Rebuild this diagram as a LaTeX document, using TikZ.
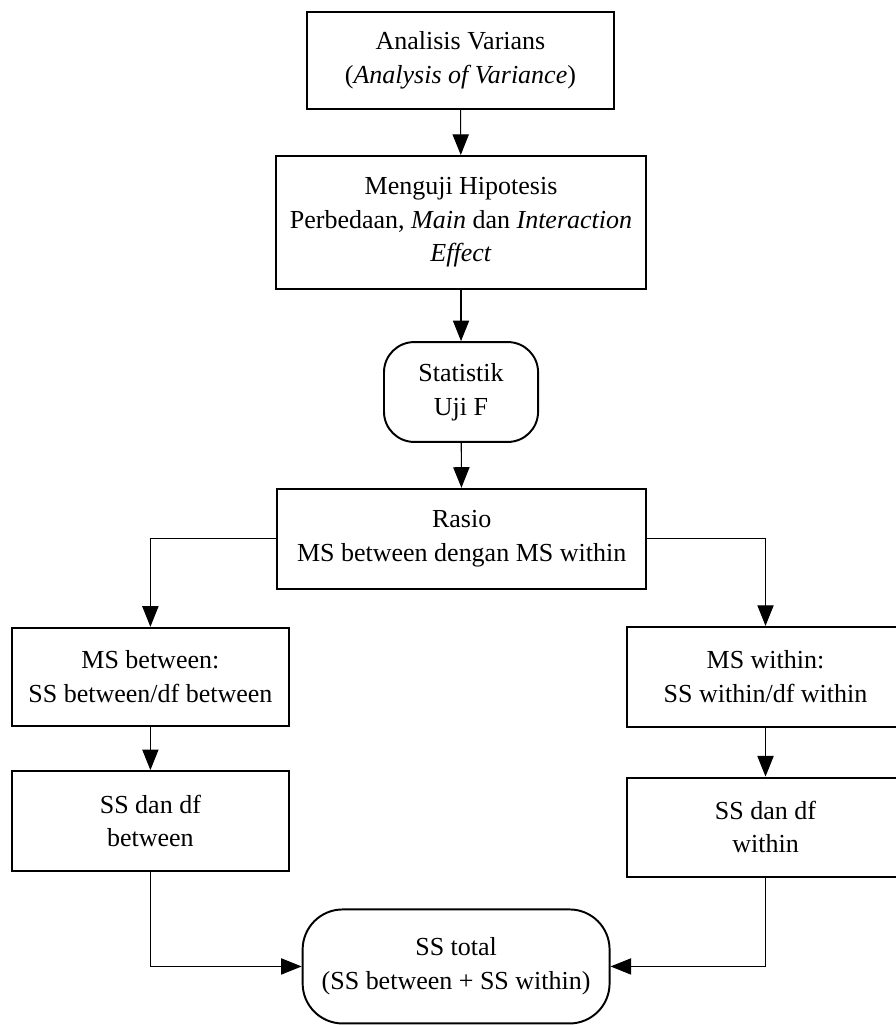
\documentclass[tikz,border=0pt]{standalone}
\usepackage{fontspec}
\setmainfont{Liberation Serif}
\usetikzlibrary{arrows.meta, positioning}

\begin{document}
\begin{tikzpicture}[
  box/.style={rectangle, draw, line width=0.9pt, align=center, inner sep=0pt, font=\fontsize{12}{15.5}\selectfont},
  rbox/.style={box, rounded corners=0.49cm},
  arr/.style={-{Triangle[length=9.5pt, width=7.5pt]}, line width=0.5pt}
]
  \useasboundingbox (0,0) rectangle (14.53,-16.63);
  \node[box, minimum width=4.98cm, minimum height=1.57cm] (Anova) at (7.47,-0.98) {Analisis Varians\\(\textit{Analysis of Variance})};
  \node[box, minimum width=6.00cm, minimum height=2.16cm] (Hipo) at (7.48,-3.61) {Menguji Hipotesis\\Perbedaan, \textit{Main} dan \textit{Interaction}\\\textit{Effect}};
  \node[rbox, minimum width=2.50cm, minimum height=1.62cm] (UjiF) at (7.48,-6.36) {Statistik\\Uji F};
  \node[box, minimum width=5.99cm, minimum height=1.62cm] (Rasio) at (7.49,-8.74) {Rasio\\MS between dengan MS within};
  \node[box, minimum width=4.49cm, minimum height=1.59cm] (MSb) at (2.44,-10.98) {MS between:\\SS between/df between};
  \node[box, minimum width=4.49cm, minimum height=1.62cm] (MSw) at (12.42,-10.98) {MS within:\\SS within/df within};
  \node[box, minimum width=4.49cm, minimum height=1.62cm] (SSb) at (2.44,-13.32) {SS dan df\\between};
  \node[box, minimum width=4.49cm, minimum height=1.61cm] (SSw) at (12.42,-13.42) {SS dan df\\within};
  \node[rbox, rounded corners=0.65cm, minimum width=4.98cm, minimum height=1.85cm] (SSt) at (7.40,-15.68) {SS total\\(SS between + SS within)};
  \draw[arr] (Anova) -- (Hipo);
  \draw[arr] (Hipo) -- (UjiF);
  \draw[arr] (UjiF) -- (Rasio);
  \draw[arr] (Rasio.west) -| (MSb.north);
  \draw[arr] (Rasio.east) -| (MSw.north);
  \draw[arr] (MSb) -- (SSb);
  \draw[arr] (MSw) -- (SSw);
  \draw[arr] (SSb.south) |- (SSt.west);
  \draw[arr] (SSw.south) |- (SSt.east);
\end{tikzpicture}
\end{document}
